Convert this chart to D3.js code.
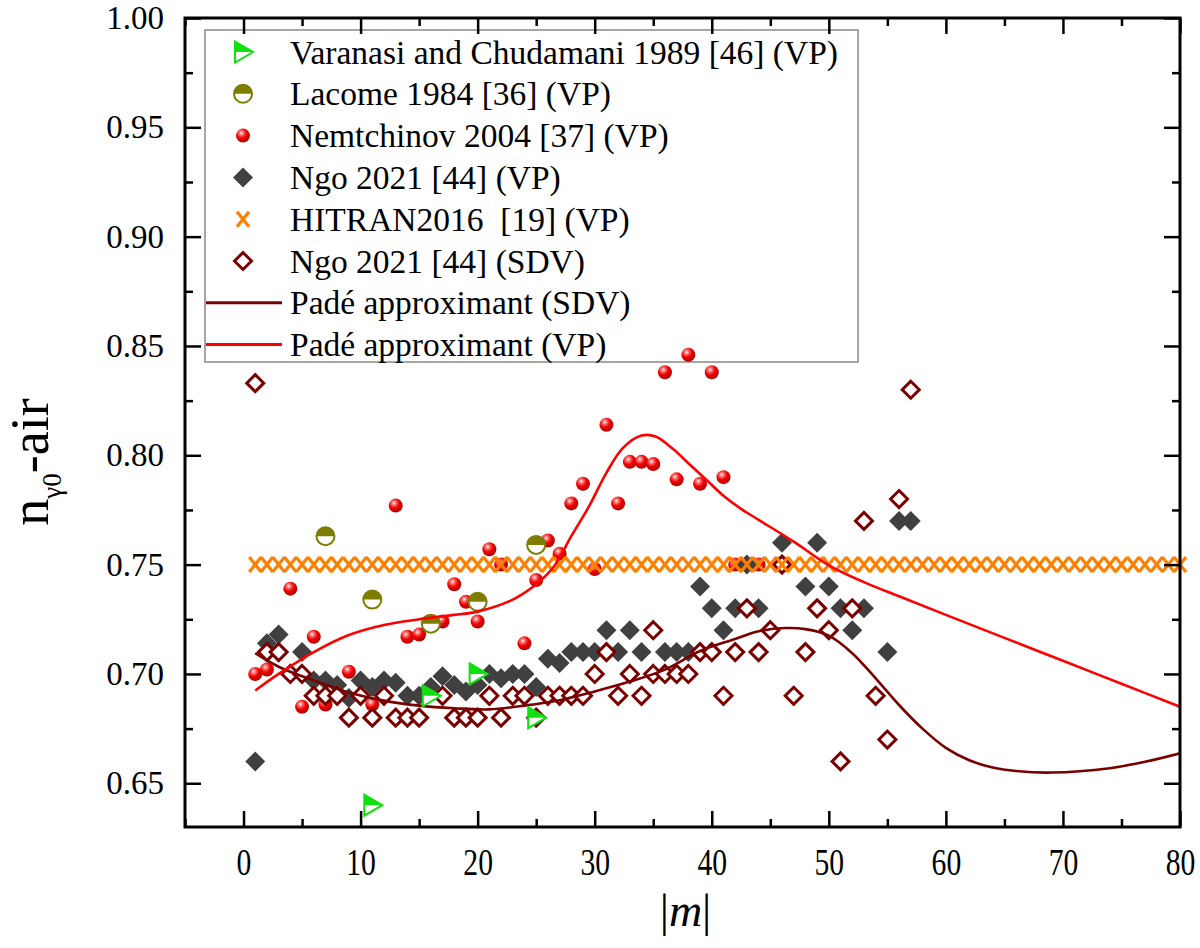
<!DOCTYPE html>
<html><head><meta charset="utf-8">
<script src="https://cdn.jsdelivr.net/npm/d3@7"></script>
<style>
body{margin:0;background:#fff}
text{font-family:"Liberation Serif","Times New Roman",serif;fill:#000}
</style>
</head><body>
<svg id="c" width="1200" height="948"></svg>
<script>
// ---------------- data ----------------
const varanasiM = [11, 16, 20, 25];
const varanasiN = [0.640, 0.690, 0.700, 0.680];

const lacomeM = [7, 11, 16, 20, 25];
const lacomeN = [0.763, 0.734, 0.723, 0.733, 0.759];

const nemM = [1,2,4,5,6,7,9,11,13,14,15,17,18,19,20,21,22,24,25,26,27,28,29,30,31,32,33,34,35,36,37,38,39,40,41,42,44];
const nemN = [0.700,0.702,0.739,0.685,0.717,0.686,0.701,0.686,0.777,0.717,0.718,0.724,0.741,0.733,0.724,0.757,0.750,0.714,0.743,0.761,0.755,0.778,0.787,0.748,0.814,0.778,0.797,0.797,0.796,0.838,0.789,0.846,0.787,0.838,0.790,0.750,0.750];

const ngoVPM = [1,2,3,5,6,7,8,9,10,11,12,13,14,15,16,17,18,19,20,21,22,23,24,25,26,27,28,29,30,31,32,33,34,36,37,38,39,40,41,42,43,44,46,48,49,50,51,52,53,55,56,57];
const ngoVPN = [0.660,0.714,0.718,0.710,0.697,0.697,0.695,0.689,0.697,0.694,0.697,0.696,0.690,0.690,0.694,0.699,0.695,0.692,0.695,0.700,0.698,0.700,0.700,0.694,0.707,0.705,0.710,0.710,0.710,0.720,0.710,0.720,0.710,0.710,0.710,0.710,0.740,0.730,0.720,0.730,0.750,0.730,0.760,0.740,0.760,0.740,0.730,0.720,0.730,0.710,0.770,0.770];

const hitranM = [1,2,3,4,5,6,7,8,9,10,11,12,13,14,15,16,17,18,19,20,21,22,23,24,25,26,27,28,29,30,31,32,33,34,35,36,37,38,39,40,41,42,43,44,45,46,47,48,49,50,51,52,53,54,55,56,57,58,59,60,61,62,63,64,65,66,67,68,69,70,71,72,73,74,75,76,77,78,79,80];
const hitranN = [0.75,0.75,0.75,0.75,0.75,0.75,0.75,0.75,0.75,0.75,0.75,0.75,0.75,0.75,0.75,0.75,0.75,0.75,0.75,0.75,0.75,0.75,0.75,0.75,0.75,0.75,0.75,0.75,0.75,0.75,0.75,0.75,0.75,0.75,0.75,0.75,0.75,0.75,0.75,0.75,0.75,0.75,0.75,0.75,0.75,0.75,0.75,0.75,0.75,0.75,0.75,0.75,0.75,0.75,0.75,0.75,0.75,0.75,0.75,0.75,0.75,0.75,0.75,0.75,0.75,0.75,0.75,0.75,0.75,0.75,0.75,0.75,0.75,0.75,0.75,0.75,0.75,0.75,0.75,0.75];

const ngoSDVM = [1,2,3,4,5,6,7,8,9,10,11,12,13,14,15,17,18,19,20,21,22,23,24,25,26,27,28,29,30,31,32,33,34,35,35,36,37,38,39,40,41,42,43,44,45,46,47,48,49,50,51,52,53,54,55,56,57];
const ngoSDVN = [0.833,0.710,0.710,0.700,0.700,0.690,0.690,0.690,0.680,0.690,0.680,0.690,0.680,0.680,0.680,0.690,0.680,0.680,0.680,0.690,0.680,0.690,0.690,0.680,0.690,0.690,0.690,0.690,0.700,0.710,0.690,0.700,0.690,0.720,0.700,0.700,0.700,0.700,0.710,0.710,0.690,0.710,0.730,0.710,0.720,0.750,0.690,0.710,0.730,0.720,0.660,0.730,0.770,0.690,0.670,0.780,0.830];

const padeVPM = [1,3,6,9,12,15,18,20,23,25,26.5,28,29.5,31,32.4,34,35.2,36.6,38,39.5,41,42.5,44,47,50,53,56,60,65,70,75,80];
const padeVPN = [0.6924,0.700,0.710,0.7178,0.7224,0.725,0.727,0.7285,0.734,0.741,0.749,0.763,0.7765,0.792,0.8033,0.809,0.8086,0.8033,0.7964,0.789,0.7815,0.7755,0.7705,0.7605,0.7497,0.742,0.7355,0.727,0.7165,0.706,0.6955,0.685];

const padeSDVM = [1,3,6,9,12,15,18,21,24,27,30,33,36,39,42,44,46.3,48,50,52,54,56,58,60,62,64,66,69,74,77,80];
const padeSDVN = [0.7095,0.7033,0.697,0.6915,0.6878,0.6855,0.6843,0.6838,0.6855,0.688,0.692,0.6965,0.702,0.7105,0.716,0.7195,0.721,0.7205,0.7175,0.7095,0.698,0.6858,0.675,0.6662,0.6605,0.6572,0.6556,0.6549,0.6569,0.6598,0.6637];

const xMajor = [0,10,20,30,40,50,60,70,80];
const xMinor = [-5,5,15,25,35,45,55,65,75];
const yMajor = [0.65,0.70,0.75,0.80,0.85,0.90,0.95,1.00];
const yMinor = [0.675,0.725,0.775,0.825,0.875,0.925,0.975];

const legendLabels = [
  "Varanasi and Chudamani 1989 [46] (VP)",
  "Lacome 1984 [36] (VP)",
  "Nemtchinov 2004 [37] (VP)",
  "Ngo 2021 [44] (VP)",
  "HITRAN2016  [19] (VP)",
  "Ngo 2021 [44] (SDV)",
  "Padé approximant (SDV)",
  "Padé approximant (VP)"
];

// ---------------- chart ----------------
const svg = d3.select("#c");
const L = 185, R = 1180, T = 18, B = 827;
const x = d3.scaleLinear().domain([-5, 80]).range([L, R]);
const y = d3.scaleLinear().domain([0.63, 1.00]).range([B, T]);

const GREEN = "#10e010", OLIVE = "#7d7d00", RED = "#ff0000", DARK = "#404040",
      ORANGE = "#ff8000", MAROON = "#7a0000";

const defs = svg.append("defs");
const g1 = defs.append("radialGradient").attr("id","sph").attr("cx","38%").attr("cy","32%").attr("r","68%");
g1.append("stop").attr("offset","0%").attr("stop-color","#ffffff");
g1.append("stop").attr("offset","22%").attr("stop-color","#ff7070");
g1.append("stop").attr("offset","55%").attr("stop-color","#f00000");
g1.append("stop").attr("offset","100%").attr("stop-color","#b00000");
defs.append("clipPath").attr("id","plotclip").append("rect")
  .attr("x", L).attr("y", T).attr("width", R-L).attr("height", B-T);

// marker drawers
function sphere(g){ g.append("circle").attr("r",7).attr("fill","url(#sph)"); }
function lacome(g){
  g.append("circle").attr("r",9).attr("fill","#fff").attr("stroke",OLIVE).attr("stroke-width",2);
  g.append("path").attr("d","M-9,0 A9,9 0 0 1 9,0 Z").attr("fill",OLIVE);
}
function tri(g){
  g.append("path").attr("d","M-8,-10.5 L10,0 L-8,10.5 Z").attr("fill","#fff").attr("stroke",GREEN).attr("stroke-width",2);
  g.append("path").attr("d","M-8,-10.5 L10,0 L-8,0 Z").attr("fill",GREEN);
}
function dia(g){ g.append("path").attr("d","M0,-10 L10,0 L0,10 L-10,0 Z").attr("fill",DARK); }
function odia(g){ g.append("path").attr("d","M0,-8.5 L8.5,0 L0,8.5 L-8.5,0 Z").attr("fill","#fff").attr("stroke",MAROON).attr("stroke-width",3); }
function cross(g){
  g.append("path").attr("d","M-6,-7.5 L6,7.5 M-6,7.5 L6,-7.5").attr("stroke",ORANGE).attr("stroke-width",3.2).attr("fill","none");
}

function scatter(ms, ns, drawer){
  const data = ms.map((m,i)=>({m, n: ns[i]}));
  const g = svg.append("g");
  g.selectAll("g").data(data).join("g")
    .attr("transform", d=>`translate(${x(d.m)},${y(d.n)})`)
    .each(function(){ drawer(d3.select(this)); });
}
function curve(ms, ns, color){
  const data = ms.map((m,i)=>({m, n: ns[i]}));
  svg.append("path").datum(data)
    .attr("clip-path","url(#plotclip)")
    .attr("fill","none").attr("stroke",color).attr("stroke-width",2.6)
    .attr("d", d3.line().x(d=>x(d.m)).y(d=>y(d.n)).curve(d3.curveCatmullRom.alpha(0.5)));
}

// legend (drawn first so data marks sit on top of it)
const lg = svg.append("g");
lg.append("rect").attr("x",205).attr("y",30).attr("width",653).attr("height",332)
  .attr("fill","#fff").attr("stroke","#888").attr("stroke-width",1.5);
const drawers = [tri, lacome, sphere, dia, cross, odia];
legendLabels.forEach((lab,i)=>{
  const cy = 52 + i*41.8;
  if (i < 6) {
    const g = lg.append("g").attr("transform",`translate(243,${cy})`);
    drawers[i](g);
  } else {
    lg.append("line").attr("x1",206).attr("x2",282).attr("y1",cy).attr("y2",cy)
      .attr("stroke", i===6 ? MAROON : RED).attr("stroke-width",3);
  }
  lg.append("text").attr("x",290).attr("y",cy+11.5).attr("font-size",33.5)
    .style("white-space","pre").text(lab);
});

scatter(nemM, nemN, sphere);
scatter(lacomeM, lacomeN, lacome);
scatter(ngoVPM, ngoVPN, dia);
scatter(ngoSDVM, ngoSDVN, odia);
scatter(hitranM, hitranN, cross);
curve(padeSDVM, padeSDVN, MAROON);
curve(padeVPM, padeVPN, RED);
scatter(varanasiM, varanasiN, tri);

// axes
function styleAxis(g){
  g.select(".domain").remove();
  g.selectAll(".tick line").attr("stroke","#000").attr("stroke-width",2.5);
}
svg.append("g").attr("transform",`translate(0,${B})`)
  .call(d3.axisBottom(x).tickValues(xMajor).tickSize(-16).tickPadding(21).tickFormat(d3.format("d")))
  .call(styleAxis)
  .selectAll("text").attr("font-size",38).attr("font-family","Liberation Serif")
  .attr("transform","scale(0.78,1)");
svg.append("g").attr("transform",`translate(0,${B})`)
  .call(d3.axisBottom(x).tickValues(xMinor).tickSize(-8).tickFormat(""))
  .call(styleAxis);
svg.append("g").attr("transform",`translate(0,${T})`)
  .call(d3.axisTop(x).tickValues(xMajor).tickSize(-16).tickFormat(""))
  .call(styleAxis);
svg.append("g").attr("transform",`translate(0,${T})`)
  .call(d3.axisTop(x).tickValues(xMinor).tickSize(-8).tickFormat(""))
  .call(styleAxis);
svg.append("g").attr("transform",`translate(${L},0)`)
  .call(d3.axisLeft(y).tickValues(yMajor).tickSize(-16).tickPadding(21).tickFormat(d3.format(".2f")))
  .call(styleAxis)
  .selectAll("text").attr("font-size",33).attr("font-family","Liberation Serif");
svg.append("g").attr("transform",`translate(${L},0)`)
  .call(d3.axisLeft(y).tickValues(yMinor).tickSize(-8).tickFormat(""))
  .call(styleAxis);
svg.append("g").attr("transform",`translate(${R},0)`)
  .call(d3.axisRight(y).tickValues(yMajor).tickSize(-16).tickFormat(""))
  .call(styleAxis);
svg.append("g").attr("transform",`translate(${R},0)`)
  .call(d3.axisRight(y).tickValues(yMinor).tickSize(-8).tickFormat(""))
  .call(styleAxis);

svg.append("rect").attr("x",L).attr("y",T).attr("width",R-L).attr("height",B-T)
  .attr("fill","none").attr("stroke","#000").attr("stroke-width",3);

// axis titles
const xt = svg.append("text").attr("x",(L+R)/2+3).attr("y",926).attr("text-anchor","middle")
  .attr("font-size",46);
xt.append("tspan").text("|");
xt.append("tspan").attr("font-style","italic").text("m");
xt.append("tspan").text("|");

const yt = svg.append("text").attr("transform","translate(48,462) rotate(-90)")
  .attr("text-anchor","middle").attr("font-size",54);
yt.append("tspan").text("n");
yt.append("tspan").attr("font-size",27).attr("dy",13).text("γ0");
yt.append("tspan").attr("dy",-13).text("-air");
</script>
</body></html>
